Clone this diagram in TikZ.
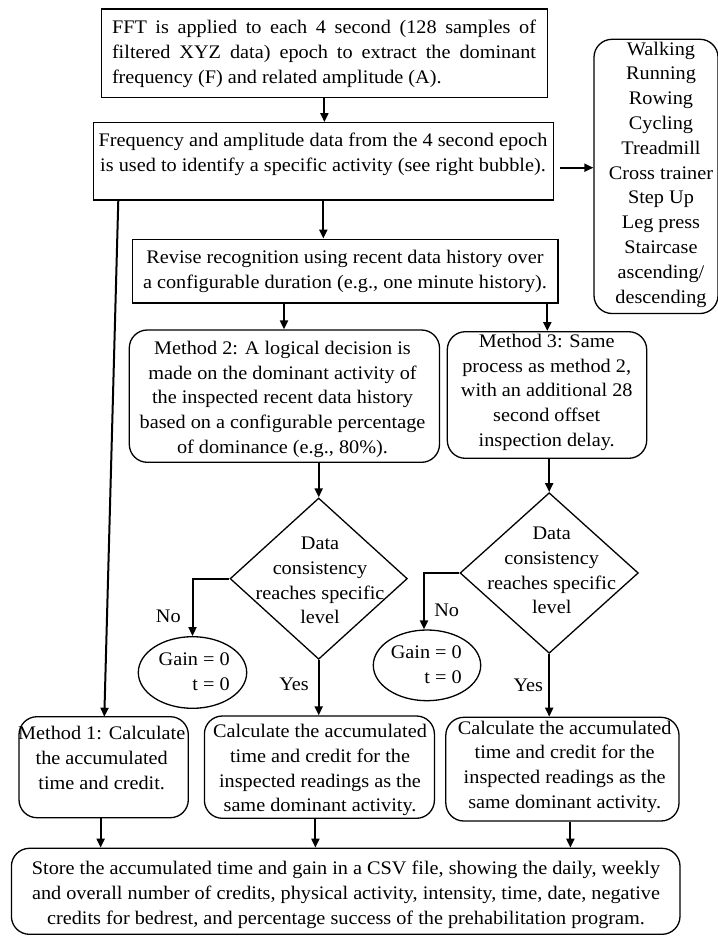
\documentclass[tikz,border=0pt]{standalone}
\usepackage{fontspec}
\setmainfont{Liberation Serif}[FakeStretch=1.055]
\usetikzlibrary{shapes.geometric,arrows.meta}
\newcommand{\mytab}[1]{\begin{tabular}{@{}c@{}}#1\end{tabular}}
\newcommand{\mytabr}[1]{\begin{tabular}{@{}r@{}}#1\end{tabular}}
\begin{document}
\begin{tikzpicture}[x=1pt,y=-1pt,
  every node/.style={font=\fontsize{19.2}{24.8}\selectfont},
  sbox/.style={draw,line width=1.3pt,rectangle,inner sep=0pt},
  rbox/.style={draw,line width=1.3pt,rectangle,rounded corners=18pt,inner sep=0pt},
  dbox/.style={draw,line width=1.3pt,diamond,inner sep=0pt},
  ebox/.style={draw,line width=1.3pt,ellipse,inner sep=0pt},
  txt/.style={inner sep=0pt},
  conn/.style={line width=2pt,-{Triangle[length=9pt,width=8pt]}},
  ]
\useasboundingbox (0,0) rectangle (717,936);
% shapes
\node[sbox,minimum width=445.8pt,minimum height=88.7pt] (fft) at (324.4,53.35) {};
\node[sbox,minimum width=460pt,minimum height=77.3pt] (freq) at (323.3,161.35) {};
\node[rbox,minimum width=124pt,minimum height=274.2pt] (bub) at (656,176.4) {};
\node[sbox,minimum width=425.3pt,minimum height=63.8pt] (rev) at (345.35,271.1) {};
\node[rbox,minimum width=310.2pt,minimum height=132.3pt] (m2) at (284.4,396.15) {};
\node[rbox,minimum width=199.4pt,minimum height=126.6pt] (m3) at (547,395) {};
\node[dbox,minimum width=177.3pt,minimum height=161.3pt] (d1) at (318.7,578.65) {};
\node[dbox,minimum width=178.3pt,minimum height=160.6pt] (d2) at (549.2,573) {};
\node[ebox,minimum width=108.4pt,minimum height=71.6pt] (e1) at (192.5,672.5) {};
\node[ebox,minimum width=107.4pt,minimum height=70.7pt] (e2) at (427,665.35) {};
\node[rbox,minimum width=169.3pt,minimum height=101pt] (m1) at (103.65,767.2) {};
\node[rbox,minimum width=230pt,minimum height=102.3pt] (c1) at (319.4,767.15) {};
\node[rbox,minimum width=233.2pt,minimum height=103.7pt] (c2) at (562.4,769.15) {};
\node[rbox,minimum width=668.6pt,minimum height=86pt] (st) at (345.7,891.3) {};
% texts
\node[txt] (tfft) at (324,53.3) {\parbox{424pt}{\strut FFT is applied to each 4 second (128 samples of\linebreak filtered XYZ data) epoch to extract the dominant\linebreak frequency (F) and related amplitude (A).\strut}};
\node[txt] (tfreq) at (323,154.2) {\mytab{Frequency and amplitude data from the 4 second epoch\\ is used to identify a specific activity (see right bubble).}};
\node[txt] (tbub) at (661,174.2) {\mytab{Walking\\Running\\Rowing\\Cycling\\Treadmill\\Cross trainer\\Step Up\\Leg press\\Staircase\\ascending/\\descending}};
\node[txt] (trev) at (345,270.8) {\mytab{Revise recognition using recent data history over\\a configurable duration (e.g., one minute history).}};
\node[txt] (tm2) at (282.5,398.9) {\mytab{Method 2: A logical decision is\\made on the dominant activity of\\the inspected recent data history\\based on a configurable percentage\\of dominance (e.g., 80\%).}};
\node[txt] (tm3) at (546.7,391.9) {\mytab{Method 3: Same\\process as method 2,\\with an additional 28\\second offset\\inspection delay.}};
\node[txt] (td1) at (320,581.7) {\mytab{Data\\consistency\\reaches specific\\level}};
\node[txt] (td2) at (551.7,571.7) {\mytab{Data\\consistency\\reaches specific\\level}};
\node[txt,anchor=east] (te1) at (230,672.9) {\mytabr{Gain = 0\\t = 0}};
\node[txt,anchor=east] (te2) at (462,665.8) {\mytabr{Gain = 0\\t = 0}};
\node[txt] (tm1) at (101.7,759.7) {\mytab{Method 1: Calculate\\the accumulated\\time and credit.}};
\node[txt] (tc1) at (320,769.7) {\mytab{Calculate the accumulated\\time and credit for the\\inspected readings as the\\same dominant activity.}};
\node[txt] (tc2) at (564.7,766.3) {\mytab{Calculate the accumulated\\time and credit for the\\inspected readings as the\\same dominant activity.}};
\node[txt] (tst) at (346,894.7) {\mytab{Store the accumulated time and gain in a CSV file, showing the daily, weekly\\and overall number of credits, physical activity, intensity, time, date, negative\\credits for bedrest, and percentage success of the prehabilitation program.}};
\node[txt] (no1) at (168.3,617.7) {\mytab{No}};
\node[txt] (no2) at (446.7,611.7) {\mytab{No}};
\node[txt] (yes1) at (294,686) {\mytab{Yes}};
\node[txt] (yes2) at (528.3,686.7) {\mytab{Yes}};
% connectors
\draw[conn] (fft.south) -- (fft.south |- freq.north);
\draw[conn] (freq.south) -- (freq.south |- rev.north);
\coordinate (fb) at (560,167.7);
\draw[conn] (fb) -- (fb -| bub.west);
\coordinate (la) at (118.3,200);
\coordinate (lb) at (104.3,716.7);
\draw[conn] (la) -- (lb);
\coordinate (r2) at (284,303);
\draw[conn] (r2) -- (r2 |- m2.north);
\coordinate (r3) at (547.3,303);
\draw[conn] (r3) -- (r3 |- m3.north);
\draw[conn] (d1.north |- m2.south) -- (d1.north);
\draw[conn] (d2.north |- m3.south) -- (d2.north);
\draw[conn] (d1.west) -| (e1.north);
\coordinate (e2t) at ([xshift=-3pt]e2.north);
\draw[conn] (d2.west) -| (e2t);
\draw[conn] (d1.south) -- (d1.south |- c1.north);
\draw[conn] (d2.south) -- (d2.south |- c2.north);
\coordinate (s1) at ([xshift=-3pt]m1.south);
\coordinate (s2) at ([xshift=-4pt]c1.south);
\coordinate (s3) at ([xshift=8pt]c2.south);
\draw[conn] (s1) -- (s1 |- st.north);
\draw[conn] (s2) -- (s2 |- st.north);
\draw[conn] (s3) -- (s3 |- st.north);
\end{tikzpicture}
\end{document}
